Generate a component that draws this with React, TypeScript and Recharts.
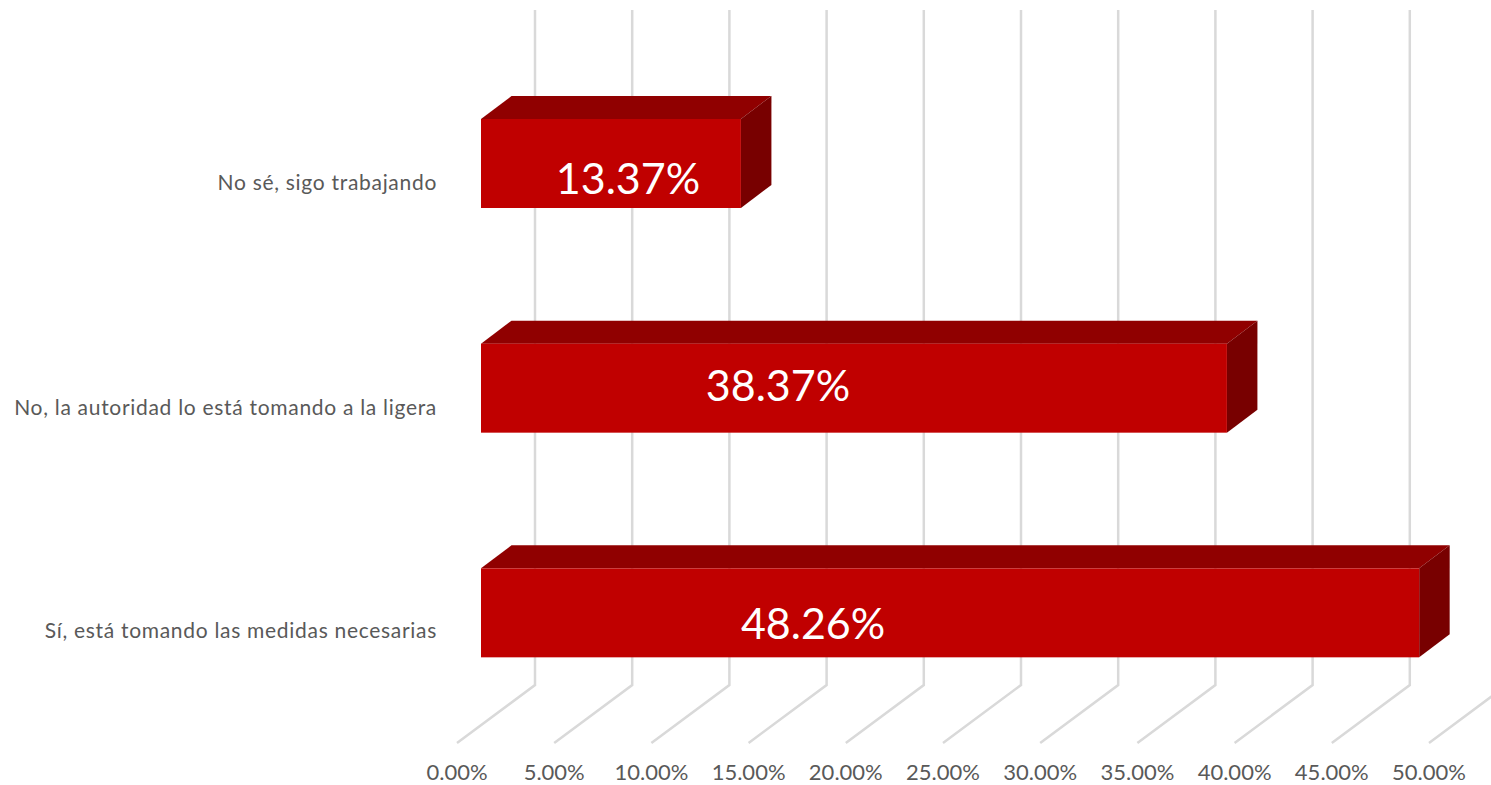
import { Bar, BarChart, CartesianGrid, LabelList, XAxis, YAxis } from 'recharts';

const categories = ['No sé, sigo trabajando', 'No, la autoridad lo está tomando a la ligera', 'Sí, está tomando las medidas necesarias'];
const values = [13.37, 38.37, 48.26];
const xTicks = [0, 5, 10, 15, 20, 25, 30, 35, 40, 45, 50];

// the labels were dragged by hand in the original, so they sit off centre
const labelNudgeX = [17, -76, -137];
const labelNudgeY = [15, -2, 11];

const FONT = 'Lato, sans-serif';
const DEPTH_X = 30.5;
const DEPTH_Y = 23;

const data = categories.map((name, i) => ({ name, value: values[i] }));

function Box3D({ x, y, width, height }: any) {
  return (
    <g>
      <polygon points={`${x},${y} ${x + DEPTH_X},${y - DEPTH_Y} ${x + width + DEPTH_X},${y - DEPTH_Y} ${x + width},${y}`} fill="#900000" />
      <polygon points={`${x + width},${y} ${x + width + DEPTH_X},${y - DEPTH_Y} ${x + width + DEPTH_X},${y + height - DEPTH_Y} ${x + width},${y + height}`} fill="#780000" />
      <rect x={x} y={y} width={width} height={height} fill="#C00000" />
    </g>
  );
}

// wall + floor line, the tick position is where the bars start so floor front is 24px to the left
function gridLine(props: any) {
  const x = props.x1;
  return (
    <polyline
      key={props.key ?? x}
      points={`${x - 24},743 ${x + 54},685 ${x + 54},10`}
      fill="none"
      stroke="#D9D9D9"
      strokeWidth={2.5}
    />
  );
}

function ValueTick({ x, y, payload }: any) {
  return (
    <text x={x - 24} y={y + 47} textAnchor="middle" fontFamily={FONT} fontSize={22} fill="#595959">
      {payload.value.toFixed(2)}%
    </text>
  );
}

function CategoryTick({ y, index, payload }: any) {
  return (
    <text x={437} y={y + (index === 2 ? 25 : 27)} textAnchor="end" fontFamily={FONT} fontSize={21} letterSpacing={0.7} fill="#595959">
      {payload.value}
    </text>
  );
}

function BarLabel({ x, y, width, height, value, index }: any) {
  return (
    <text
      x={x + width / 2 + labelNudgeX[index]}
      y={y + height / 2 + labelNudgeY[index] + 15}
      textAnchor="middle"
      fontFamily={FONT}
      fontSize={43}
      fill="#FFFFFF"
    >
      {value.toFixed(2)}%
    </text>
  );
}

export default function App() {
  return (
    <div style={{ position: 'absolute', left: 0, top: 0, width: 1491, height: 785 }}>
      <BarChart
        width={1491}
        height={785}
        data={data}
        layout="vertical"
        barCategoryGap={0}
        margin={{ top: 51, right: 38, bottom: 0, left: 0 }}
      >
        <CartesianGrid horizontal={false} vertical={gridLine} />
        <XAxis
          type="number"
          domain={[0, 50]}
          ticks={xTicks}
          interval={0}
          height={60}
          axisLine={false}
          tickLine={false}
          tick={<ValueTick />}
        />
        <YAxis
          type="category"
          dataKey="name"
          width={481}
          axisLine={false}
          tickLine={false}
          interval={0}
          tick={<CategoryTick />}
        />
        <Bar dataKey="value" barSize={89} shape={<Box3D />} isAnimationActive={false}>
          <LabelList dataKey="value" content={<BarLabel />} />
        </Bar>
      </BarChart>
    </div>
  );
}
